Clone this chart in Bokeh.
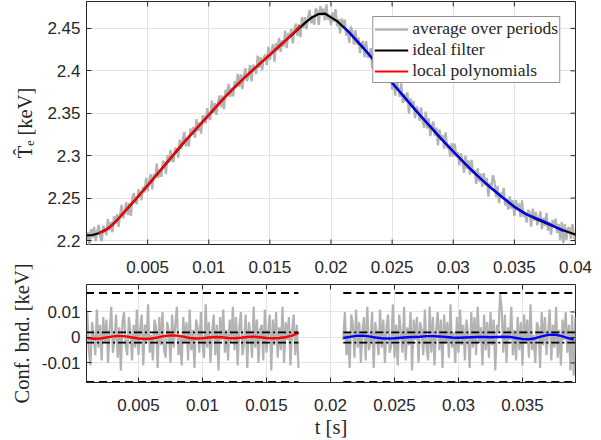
import numpy as np
from bokeh.plotting import figure
from bokeh.models import Range1d, FixedTicker, Legend, LegendItem, LinearAxis
from bokeh.layouts import column
from bokeh.embed import file_html
from bokeh.resources import INLINE

# ---------------- data ----------------
ideal_step = 0.0005  # s
ideal_keV = [
    2.206, 2.2065, 2.2085, 2.212, 2.217, 2.224, 2.232, 2.240, 2.248, 2.2565,
    2.265, 2.2735, 2.282, 2.2905, 2.299, 2.3075, 2.316, 2.324, 2.332, 2.340,
    2.348, 2.356, 2.364, 2.3715, 2.379, 2.386, 2.393, 2.3995, 2.406, 2.4125,
    2.419, 2.4255, 2.432, 2.4385, 2.445, 2.4515, 2.458, 2.4635, 2.467, 2.4675,
    2.463, 2.4585, 2.452, 2.445, 2.437, 2.429, 2.421, 2.4125, 2.404, 2.395,
    2.386, 2.3775, 2.369, 2.3605, 2.352, 2.344, 2.336, 2.328, 2.320, 2.3125,
    2.305, 2.2975, 2.290, 2.283, 2.276, 2.2695, 2.263, 2.257, 2.251, 2.2455,
    2.240, 2.2355, 2.231, 2.2275, 2.224, 2.221, 2.218, 2.215, 2.212, 2.2095,
    2.207,
]

avg_step = 0.000125  # s
avg_resid_mkeV = [
    -6, 4, -14, 7, -3, 9, -8, 2, 10, -5, -11, 6, 1, -7, 11, -4, 5, -9, 8, -2,
    7, -10, 3, 12, -6, -1, 9, -8, 4, -13, 6, 10, -3, -7, 8, 2, -9, 5, -4, 11,
    -7, 3, 9, -11, 5, -2, 13, -6, 1, -9, 7, 4, -12, 8, -3, 10, -5, -8, 6, 2,
    -10, 9, -4, 5, 12, -7, 1, -11, 8, -2, 6, -9, 11, -5, 3, -12, 7, 4, -6, 10,
    -3, -8, 13, -4, 6, -10, 2, 9, -7, 5, -13, 8, -1, 11, -6, 3, -9, 7, -2, 12,
    -5, 8, -11, 4, 10, -7, -2, 9, -12, 6, 1, -8, 12, -4, 7, -10, 3, 5, -9, 11,
    -6, 2, 9, -13, 7, -3, 10, -8, 4, -5, 12, -10, 6, -1, 8, -11, 3, 9, -7, 5,
    -12, 10, -4, 7, -9, 3, 11, -6, 1, -10, 8, 5, -13, 9, -2, 6, -8, 12, -5, 2,
    -9, 7, -3, 13, -6, 4, -11, 8, -1, 10, -7, 2, -12, 9, 5, -8, 11, -4, 6, -10,
    3, 8, -9, 12, -5, -2, 10, -12, 6, 1, -7, 11, -4, 7, -10, 4, 9, -6, -3, 13,
    -8, 5, -11, 9, 2, -6, 12, -9, 4, -3, 10, -13, 7, -1, 8, -10, 6, 3, -7, 11,
    -4, -9, 12, -6, 8, -11, 3, 10, -5, 7, -12, 9, -2, 6, -8, 13, -4, 2, -10, 8,
    -6, 11, -3, 5, -9, 7, 1, -12, 10, -4, 8, -7, 12, -2, 4, -11, 9, -5, 6, -8,
    10, -3, 7, -13, 5, 2, 17, 11, -6, 9, -10, 4, -1, 12, -7, 3, -9, 8, -5, 6,
    -11, 9, -2, 7, -8, 13, -5, 1, -10, 6, 4, -12, 10, -3, 8, -7, 2, 11, -9, 5,
    -4, 12, -8, 3, -11, 7, -1, 10, -6, 5, -13, 9, -15, 8, -10, 4, 6, -7, 11, -2,
    -9,
]

red_t0 = 0.001
red_resid_1e4 = [-2, -5, -4, 0, 4, 6, 4, 0, -4, -6, -4, 0, 5, 8, 7, 3, -2, -4,
                 -3, 0, 2, 1, -2, -3, -1, 2, 3, 1, -2, -3, -2, 1, 7, 18]
blue_t0 = 0.021
blue_resid_1e4 = [-2, 2, 6, 7, 4, 0, -3, -4, -3, -1, 1, 2, 3, 5, 5, 4, 2, 0,
                  -1, 0, 1, 2, 2, 1, 2, 3, 2, -2, -6, -7, -3, 4, 10, 11, 6, -2, -8]

segments = [(0.0009, 0.0175), (0.021, 0.0392)]
outer_bound = 0.0175
inner_bound = 0.002

top_xticks = [0.005, 0.01, 0.015, 0.02, 0.025, 0.03, 0.035, 0.04]
top_xlabels = ["0.005", "0.01", "0.015", "0.02", "0.025", "0.03", "0.035", "0.04"]
bot_xticks = [0.005, 0.01, 0.015, 0.02, 0.025, 0.03, 0.035]
bot_xlabels = ["0.005", "0.01", "0.015", "0.02", "0.025", "0.03", "0.035"]
top_yticks = [2.2, 2.25, 2.3, 2.35, 2.4, 2.45]
top_ylabels = ["2.2", "2.25", "2.3", "2.35", "2.4", "2.45"]
bot_yticks = [-0.01, 0, 0.01]
bot_ylabels = ["-0.01", "0", "0.01"]

# ---------------- derived ----------------
ideal = np.array(ideal_keV)
t_ideal = np.arange(len(ideal)) * ideal_step
resid = np.array(avg_resid_mkeV) * 1e-3
t_avg = np.arange(len(resid)) * avg_step
avg_top = np.interp(t_avg, t_ideal, ideal) + resid

red_res = np.array(red_resid_1e4) * 1e-4
blue_res = np.array(blue_resid_1e4) * 1e-4
i_red = int(round(red_t0 / ideal_step))
i_blue = int(round(blue_t0 / ideal_step))
t_red = t_ideal[i_red:i_red + len(red_res)]
t_blue = t_ideal[i_blue:i_blue + len(blue_res)]
red_top = ideal[i_red:i_red + len(red_res)] + red_res
blue_top = ideal[i_blue:i_blue + len(blue_res)] + blue_res

GRAY = "#b3b3b3"
AX = "#262626"
TICK_FONT = "Liberation Sans"
SERIF = "Liberation Serif"
TICK_PX = 5
FRAME_W = 489


def style(p, xt, xl, yt, yl, standoff_x, frame_h, bottom_ticks=False):
    p.outline_line_color = AX
    p.outline_line_width = 1
    p.background_fill_color = "white"
    p.border_fill_color = "white"
    for ax in p.xaxis + p.yaxis:
        ax.axis_line_color = AX
        ax.major_tick_line_color = AX
        ax.major_tick_in = TICK_PX
        ax.major_tick_out = 0
        ax.minor_tick_line_color = None
        ax.major_label_text_font = TICK_FONT
        ax.major_label_text_font_size = "17px"
        ax.major_label_text_color = AX
        ax.axis_label_text_font = SERIF
        ax.axis_label_text_font_size = "20.5px"
        ax.axis_label_text_font_style = "normal"
        ax.axis_label_text_color = AX
    p.xaxis.ticker = FixedTicker(ticks=xt)
    p.xaxis.major_label_overrides = dict(zip(xt, xl))
    p.yaxis.ticker = FixedTicker(ticks=yt)
    p.yaxis.major_label_overrides = dict(zip(yt, yl))
    p.xaxis.major_label_standoff = standoff_x
    p.yaxis.major_label_standoff = 6
    p.xgrid.ticker = FixedTicker(ticks=xt)
    p.ygrid.ticker = FixedTicker(ticks=yt)
    p.xgrid.grid_line_color = "#e3e3e3"
    p.ygrid.grid_line_color = "#e3e3e3"
    # mirrored inward ticks on the box edges
    xr, yr = p.x_range, p.y_range
    dy = TICK_PX * (yr.end - yr.start) / frame_h
    dx = TICK_PX * (xr.end - xr.start) / FRAME_W
    xs = [x for x in xt if xr.start <= x <= xr.end]
    n = len(xs)
    p.segment(x0=xs, y0=[yr.end] * n, x1=xs, y1=[yr.end - dy] * n,
              line_color=AX, line_width=1)
    if bottom_ticks:
        p.segment(x0=xs, y0=[yr.start] * n, x1=xs, y1=[yr.start + dy] * n,
                  line_color=AX, line_width=1)
    p.segment(x0=[xr.end] * len(yt), y0=yt, x1=[xr.end - dx] * len(yt), y1=yt,
              line_color=AX, line_width=1)


# ---------------- top figure ----------------
p1 = figure(width=601, height=254, output_backend="svg", toolbar_location=None,
            x_range=Range1d(0.0, 0.04), y_range=Range1d(2.1953, 2.4817),
            min_border_left=86, min_border_right=26, min_border_top=1,
            min_border_bottom=10)
p1.yaxis[0].axis_label = "T\u0302\u2091 [keV]"
p1.yaxis[0].axis_label_standoff = 8

r_gray = p1.line(t_avg, avg_top, line_color=GRAY, line_width=2.3)
r_black = p1.line(t_ideal, ideal, line_color="black", line_width=2.2)
r_red = p1.line(t_red, red_top, line_color="#ff0000", line_width=2.2)
p1.line(t_blue, blue_top, line_color="#0000ff", line_width=2.2)
style(p1, top_xticks, top_xlabels, top_yticks, top_ylabels, 12, 243, bottom_ticks=True)
p1.xaxis.visible = False

legend = Legend(items=[
    LegendItem(label="average over periods", renderers=[r_gray]),
    LegendItem(label="ideal filter", renderers=[r_black]),
    LegendItem(label="local polynomials", renderers=[r_red]),
], location="top_right")
legend.label_text_font = SERIF
legend.label_text_font_size = "17.5px"
legend.label_text_color = AX
legend.border_line_color = AX
legend.border_line_width = 1
legend.background_fill_alpha = 1
legend.glyph_width = 34
legend.glyph_height = 18
legend.label_height = 18
legend.label_standoff = 4
legend.spacing = 0
legend.padding = 1
legend.margin = 15
p1.add_layout(legend)

# ---------------- bottom figure (also carries the top panel's x labels) ----------------
p2 = figure(width=601, height=186, output_backend="svg", toolbar_location=None,
            x_range=Range1d(0.00094, 0.03914), y_range=Range1d(-0.0177, 0.0208),
            min_border_left=86, min_border_right=26, min_border_top=30,
            min_border_bottom=56)
p2.yaxis[0].axis_label = "Conf. bnd. [keV]"
p2.yaxis[0].axis_label_standoff = 6
p2.xaxis[0].axis_label = "t [s]"
p2.xaxis[0].axis_label_standoff = 2

for (a, b) in segments:
    m = (t_avg >= a) & (t_avg <= b)
    p2.line(t_avg[m], resid[m], line_color=GRAY, line_width=2.2)
p2.line(t_red, red_res, line_color="#ff0000", line_width=2.4)
p2.line(t_blue, blue_res, line_color="#0000ff", line_width=2.4)
for (a, b) in segments:
    for s in (1, -1):
        p2.line([a, b], [s * outer_bound] * 2, line_color="black", line_width=2,
                line_dash="8 5")
        p2.line([a, b], [s * inner_bound] * 2, line_color="black", line_width=1.8,
                line_dash="8 3 2 3")
style(p2, bot_xticks, bot_xlabels, bot_yticks, bot_ylabels, 16, 99)

# top panel's x tick labels, placed just under the top panel
p2.extra_x_ranges = {"top": Range1d(0.0, 0.04)}
top_lab_axis = LinearAxis(x_range_name="top", ticker=FixedTicker(ticks=top_xticks),
                          major_label_overrides=dict(zip(top_xticks, top_xlabels)),
                          axis_line_color=None, major_tick_line_color=None,
                          minor_tick_line_color=None, major_tick_in=0, major_tick_out=0,
                          major_label_standoff=12, major_label_text_font=TICK_FONT,
                          major_label_text_font_size="17px", major_label_text_color=AX)
p2.add_layout(top_lab_axis, "above")

layout = column(p1, p2, spacing=0)
open("out.html", "w").write(file_html(layout, INLINE))
